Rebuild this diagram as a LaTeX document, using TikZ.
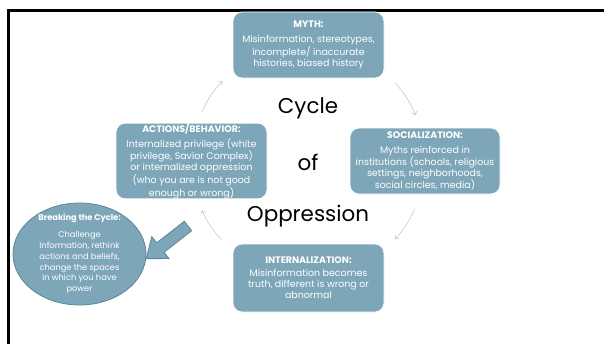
\documentclass[tikz,border=0pt]{standalone}
\usepackage{fontspec}
\setmainfont{Poppins}
\usetikzlibrary{shapes.geometric}
\usetikzlibrary{arrows.meta}
\definecolor{slate}{HTML}{7DA6B8}
\definecolor{slatedark}{HTML}{5C8799}
\definecolor{slatelight}{HTML}{ADC7D3}
\tikzset{
	stage/.style={rounded corners=9bp, fill=slate, draw=white, line width=0.8bp, text=white, align=center, inner sep=0pt, minimum width=151bp, font=\fontsize{9.5}{11}\selectfont},
	breakell/.style={ellipse, fill=slate, draw=slatedark, line width=0.8bp, inner sep=0pt, minimum width=133bp, minimum height=102bp},
	cyc/.style={slatelight, line width=0.5bp, -{Straight Barb[length=3bp,width=5bp]}},
	bigword/.style={font=\fontsize{21.5}{26}\selectfont},
}
\newcommand{\cycarc}[4] % from angle, to angle, start name, end name
{
	\path (cc) ++(#1:117) coordinate (#3);
	\path (cc) ++(#2:117) coordinate (#4);
	\draw[cyc] (#3) to[bend left=9] (#4);
}

\begin{document}
\begin{tikzpicture}[x=1bp,y=1bp]
	\useasboundingbox (0,0) rectangle (604,344);
	% slide frame
	\draw[line width=3bp] (8.5,0) -- (8.5,333.5) -- (604,333.5);

	% four stages
	\node[stage, minimum height=66bp] (myth) at (308.5,299) {\textbf{MYTH:}\\[4bp] Misinformation, stereotypes,\\ incomplete/ inaccurate\\ histories, biased history};
	\node[stage, minimum width=150bp, minimum height=66bp] (social) at (425,183) {\textbf{SOCIALIZATION:}\\[4bp] Myths reinforced in\\ institutions (schools, religious\\ settings, neighborhoods,\\ social circles, media)};
	\node[stage, minimum height=68bp] (intern) at (308.5,66) {\textbf{INTERNALIZATION:}\\[2bp] Misinformation becomes\\ truth, different is wrong or\\ abnormal};
	\node[stage, minimum height=74bp] (action) at (191.5,183) {\textbf{ACTIONS/BEHAVIOR:}\\[4bp] Internalized privilege (white\\ privilege, Savior Complex)\\ or internalized oppression\\[1bp] (who you are is not good\\ enough or wrong)};

	% title in the middle
	\node[bigword] (tcycle) at (308,236) {Cycle};
	\node[bigword] (tof) at (308,182) {of};
	\node[bigword] (topp) at (308,128) {Oppression};

	% thin arrows round the cycle
	\coordinate (cc) at (308,183);
	\cycarc{155}{137}{am1}{am2};
	\cycarc{42}{23}{ms1}{ms2};
	\cycarc{-24}{-42}{si1}{si2};
	\cycarc{-138}{-155}{ia1}{ia2};

	% breaking the cycle
	\node[breakell] (brk) at (79.5,90) {};
	\node[text=white, align=center, inner sep=0pt, font=\fontsize{8.3}{10.8}\selectfont] (brktext) at (brk.center) {\textbf{Breaking the Cycle:}\\[6bp] Challenge\\ Information, rethink\\ actions and beliefs,\\ change the spaces\\ in which you have\\ power};
	\begin{scope}[shift={(188,118)}, rotate=218]
		\draw[fill=slate, draw=slatedark, line width=0.8bp] (0,-6) -- (35,-6) -- (35,-14) -- (53,0) -- (35,14) -- (35,6) -- (0,6) -- cycle;
	\end{scope}
\end{tikzpicture}
\end{document}
